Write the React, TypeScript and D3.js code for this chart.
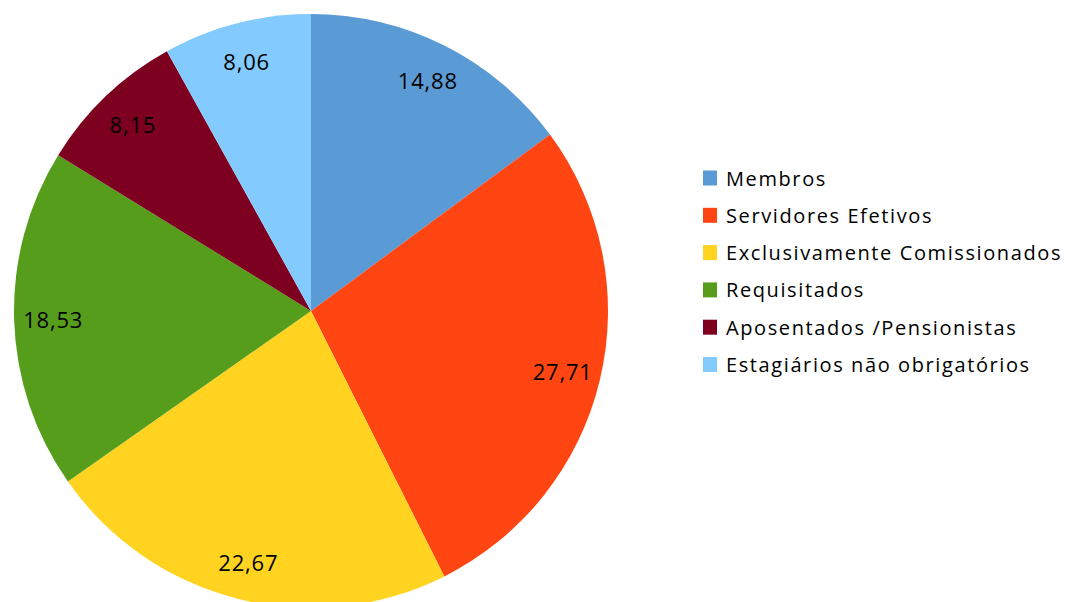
import React from "react";
import * as d3 from "d3";

const categories = [
  "Membros",
  "Servidores Efetivos",
  "Exclusivamente Comissionados",
  "Requisitados",
  "Aposentados /Pensionistas",
  "Estagiários não obrigatórios",
];
const values = [14.88, 27.71, 22.67, 18.53, 8.15, 8.06];
const colors = ["#5B9BD5", "#FF4512", "#FFD320", "#579D1C", "#7E0021", "#83CAFF"];

export default function App() {
  const W = 1073, H = 602;
  const cx = 311, cy = 311, R = 297;
  const data = categories.map((c, i) => ({ c, v: values[i], col: colors[i] }));
  const pie = d3.pie<any>().value((d) => d.v).sort(null);
  const arcs = pie(data);
  const arc = d3.arc<any>().innerRadius(0).outerRadius(R);
  const labelArc = d3.arc<any>().innerRadius(R * 0.87).outerRadius(R * 0.87);
  const font = "'Open Sans', Lato, sans-serif";
  const lsLabel = 0.8;
  const lsLegend = 1.6;
  const fmt = (v: number) => v.toFixed(2).replace(".", ",");
  return (
    <svg
      width={W}
      height={H}
      style={{ position: "absolute", left: 0, top: 0, background: "#fff" }}
    >
      <g transform={`translate(${cx},${cy})`}>
        {arcs.map((a, i) => (
          <path key={i} d={arc(a) as string} fill={a.data.col} />
        ))}
        {arcs.map((a, i) => {
          const [x, y] = labelArc.centroid(a);
          return (
            <text
              key={"l" + i}
              x={x + lsLabel / 2}
              y={y}
              textAnchor="middle"
              dominantBaseline="central"
              fontFamily={font}
              fontSize={22}
              letterSpacing={lsLabel}
              fill="#000"
            >
              {fmt(a.data.v)}
            </text>
          );
        })}
      </g>
      <g>
        {categories.map((c, i) => (
          <g key={c} transform={`translate(703,${178 + i * 37.3})`}>
            <rect x={0} y={-7.5} width={14} height={15} fill={colors[i]} />
            <text
              x={23}
              y={0}
              dominantBaseline="central"
              fontFamily={font}
              fontSize={20}
              letterSpacing={lsLegend}
              fill="#000"
            >
              {c}
            </text>
          </g>
        ))}
      </g>
    </svg>
  );
}
